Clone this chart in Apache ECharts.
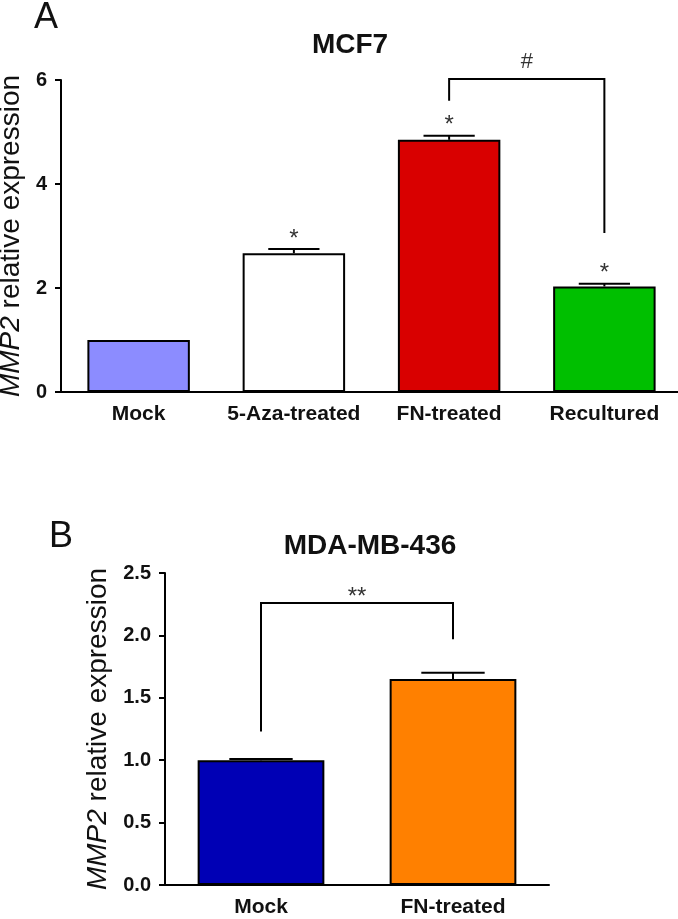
<!DOCTYPE html>
<html><head><meta charset="utf-8">
<script src="https://cdn.jsdelivr.net/npm/echarts@6/dist/echarts.min.js"></script>
<style>html,body{margin:0;padding:0;background:#fff}#c{width:678px;height:919px}</style>
</head><body><div id="c"></div>
<script>
// ---- Panel A: MCF7 ----
const catsA = ['Mock', '5-Aza-treated', 'FN-treated', 'Recultured'];
const meanA = [1.0, 2.67, 4.85, 2.03];
const errA = [0.0, 0.08, 0.08, 0.05];
const colorsA = ['#8c8cff', '#ffffff', '#d90000', '#00bf00'];
const starsA = ['', '*', '*', '*'];
const yTicksA = [0, 2, 4, 6];
// bracket: [from category, to category, top value, left leg end, right leg end]
const bracketA = [2, 3, 6.02, 5.6, 3.06];
const bracketLabelA = '#';

// ---- Panel B: MDA-MB-436 ----
const catsB = ['Mock', 'FN-treated'];
const meanB = [1.0, 1.65];
const errB = [0.01, 0.05];
const colorsB = ['#0000b5', '#ff8000'];
const starsB = ['', ''];
const yTicksB = [0, 0.5, 1.0, 1.5, 2.0, 2.5];
const bracketB = [0, 1, 2.26, 1.23, 1.97];
const bracketLabelB = '**';

const FONT = '"Liberation Sans", Arial, sans-serif';
const chart = echarts.init(document.getElementById('c'), null, {renderer: 'canvas'});

function errRenderer(stars) {
  return function (params, api) {
    const i = api.value(0), m = api.value(1), e = api.value(2);
    const base = api.coord([i, m]);
    const top = api.coord([i, m + e]);
    const bw = api.size([1, 0])[0] * 0.66;
    const hw = bw / 4;
    const children = [];
    if (e > 0) {
      children.push({type: 'line', shape: {x1: top[0], y1: base[1], x2: top[0], y2: top[1]}, style: {stroke: '#000', lineWidth: 2}});
      children.push({type: 'line', shape: {x1: top[0] - hw, y1: top[1], x2: top[0] + hw, y2: top[1]}, style: {stroke: '#000', lineWidth: 2}});
    }
    const s = stars[params.dataIndex];
    if (s) {
      children.push({type: 'text', x: top[0], y: top[1] + 2, style: {text: s, font: '24px ' + FONT, fill: '#333', align: 'center', verticalAlign: 'bottom'}});
    }
    return {type: 'group', children};
  };
}

function bracketRenderer(label) {
  return function (params, api) {
    const a = api.value(0), b = api.value(1);
    const pl = api.coord([a, api.value(3)]);
    const p1 = api.coord([a, api.value(2)]);
    const p2 = api.coord([b, api.value(2)]);
    const pr = api.coord([b, api.value(4)]);
    const isStar = label.indexOf('*') >= 0;
    return {type: 'group', children: [
      {type: 'polyline', shape: {points: [pl, p1, p2, pr]}, style: {stroke: '#000', lineWidth: 2, fill: null}},
      {type: 'text', x: (p1[0] + p2[0]) / 2, y: p1[1] + (isStar ? 6 : -6),
        style: {text: label, font: (isStar ? '24px ' : '22px ') + FONT, fill: '#333', align: 'center', verticalAlign: 'bottom'}}
    ]};
  };
}

function xAxisCfg(cats, gi) {
  return {
    type: 'category', gridIndex: gi, data: cats,
    axisLine: {lineStyle: {color: '#000', width: 2}},
    axisTick: {alignWithLabel: true, length: 7, lineStyle: {color: '#000', width: 2}},
    axisLabel: {interval: 0, color: '#111', fontFamily: FONT, fontWeight: 'bold', fontSize: 21, margin: 12}
  };
}
function yAxisCfg(gi, min, max, interval, dec, gap) {
  return {
    type: 'value', gridIndex: gi, min, max, interval,
    name: '{i|MMP2} relative expression', nameLocation: 'middle', nameGap: gap, nameRotate: 90,
    nameTextStyle: {color: '#111', fontFamily: FONT, fontSize: 28, rich: {i: {fontStyle: 'italic', fontFamily: FONT, fontSize: 28, color: '#111'}}},
    splitLine: {show: false},
    axisLine: {show: true, lineStyle: {color: '#000', width: 2}},
    axisTick: {show: true, length: 6, lineStyle: {color: '#000', width: 2}},
    axisLabel: {color: '#111', fontFamily: FONT, fontWeight: 'bold', fontSize: 20, margin: 14,
      formatter: v => v.toFixed(dec)}
  };
}

chart.setOption({
  animation: false,
  backgroundColor: '#fff',
  grid: [
    {left: 61, top: 80, width: 621, height: 312, containLabel: false, outerBoundsMode: 'none'},
    {left: 165, top: 573, width: 384, height: 312, containLabel: false, outerBoundsMode: 'none'}
  ],
  xAxis: [xAxisCfg(catsA, 0), xAxisCfg(catsB, 1)],
  yAxis: [yAxisCfg(0, yTicksA[0], yTicksA[yTicksA.length - 1], yTicksA[1] - yTicksA[0], 0, 31),
          yAxisCfg(1, yTicksB[0], yTicksB[yTicksB.length - 1], yTicksB[1] - yTicksB[0], 1, 49)],
  graphic: [
    {type: 'text', left: 34, top: 0, style: {text: 'A', font: '36px ' + FONT, fill: '#111'}},
    {type: 'text', x: 350, y: 45, style: {text: 'MCF7', font: 'bold 28px ' + FONT, fill: '#111', align: 'center', verticalAlign: 'middle'}},
    {type: 'text', left: 49, top: 519, style: {text: 'B', font: '36px ' + FONT, fill: '#111'}},
    {type: 'text', x: 370, y: 546, style: {text: 'MDA-MB-436', font: 'bold 28px ' + FONT, fill: '#111', align: 'center', verticalAlign: 'middle'}}
  ],
  series: [
    {type: 'bar', xAxisIndex: 0, yAxisIndex: 0, barWidth: '66%',
      data: meanA.map((v, i) => ({value: v, itemStyle: {color: colorsA[i]}})),
      itemStyle: {borderColor: '#000', borderWidth: 2}},
    {type: 'custom', xAxisIndex: 0, yAxisIndex: 0, z: 5, clip: false,
      renderItem: errRenderer(starsA), encode: {x: 0, y: [1, 2]},
      data: meanA.map((v, i) => [i, v, errA[i]])},
    {type: 'custom', xAxisIndex: 0, yAxisIndex: 0, z: 5, clip: false,
      renderItem: bracketRenderer(bracketLabelA), encode: {x: [0, 1], y: [2, 3, 4]},
      data: [bracketA]},
    {type: 'bar', xAxisIndex: 1, yAxisIndex: 1, barWidth: '66%',
      data: meanB.map((v, i) => ({value: v, itemStyle: {color: colorsB[i]}})),
      itemStyle: {borderColor: '#000', borderWidth: 2}},
    {type: 'custom', xAxisIndex: 1, yAxisIndex: 1, z: 5, clip: false,
      renderItem: errRenderer(starsB), encode: {x: 0, y: [1, 2]},
      data: meanB.map((v, i) => [i, v, errB[i]])},
    {type: 'custom', xAxisIndex: 1, yAxisIndex: 1, z: 5, clip: false,
      renderItem: bracketRenderer(bracketLabelB), encode: {x: [0, 1], y: [2, 3, 4]},
      data: [bracketB]}
  ]
});
</script></body></html>
